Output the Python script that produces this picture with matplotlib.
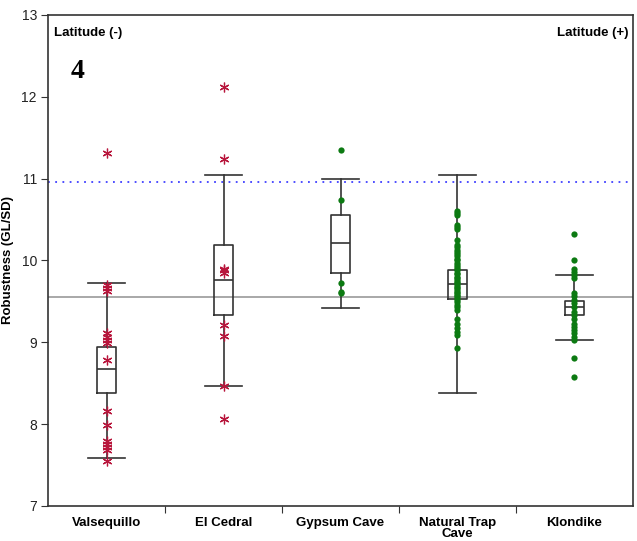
import matplotlib

matplotlib.use("Agg")
import matplotlib.pyplot as plt

# --- data ---
sites = ["Valsequillo", "El Cedral", "Gypsum Cave", "Natural Trap\nCave", "Klondike"]
southern = [True, True, False, False, False]

# box statistics
whisk_lo = [7.59, 8.47, 9.42, 8.38, 9.03]
q1 = [8.38, 9.33, 9.85, 9.53, 9.34]
med = [8.67, 9.76, 10.21, 9.71, 9.43]
q3 = [8.94, 10.19, 10.56, 9.88, 9.51]
whisk_hi = [9.72, 11.04, 11.00, 11.04, 9.82]

valsequillo = [11.31, 9.70, 9.66, 9.63, 9.11, 9.07, 9.03, 8.99, 8.79,
               8.16, 7.99, 7.80, 7.76, 7.72, 7.68, 7.55]
el_cedral = [12.12, 11.24, 9.90, 9.88, 9.85, 9.21, 9.08, 8.47, 8.06]
gypsum = [11.35, 10.74, 9.72, 9.62, 9.60]
natural_trap = [10.60, 10.58, 10.55, 10.43, 10.41, 10.39, 10.25,
                10.19, 10.16, 10.13, 10.10, 10.08, 10.05, 10.02, 10.00,
                9.97, 9.95, 9.92, 9.90, 9.88, 9.85, 9.83, 9.80, 9.78,
                9.76, 9.74, 9.72, 9.70, 9.68, 9.66, 9.64, 9.62, 9.60,
                9.58, 9.56, 9.54, 9.52, 9.49, 9.46, 9.43, 9.40,
                9.29, 9.23, 9.17, 9.13, 9.09, 8.93]
klondike = [10.32, 10.01, 9.90, 9.86, 9.82, 9.78, 9.60, 9.56, 9.52,
            9.48, 9.43, 9.37, 9.33, 9.29, 9.23, 9.19, 9.15, 9.11,
            9.07, 9.03, 8.81, 8.58]
points = [valsequillo, el_cedral, gypsum, natural_trap, klondike]

upper_ref = 10.96
mean_ref = 9.55

red = "#b8163c"
green = "#0c7a12"
edge = "#333333"

plt.rcParams.update({"font.family": "Liberation Sans", "font.size": 10})

fig = plt.figure(figsize=(6.37, 5.41), dpi=100)
ax = fig.add_axes([0.0754, 0.0647, 0.9183, 0.9076])

ax.axhline(mean_ref, color="#999999", linewidth=1.2, zorder=1)
ax.axhline(upper_ref, color="#4040ff", linewidth=1.3, linestyle=(0, (1, 3)), zorder=1)

stats = []
for i in range(len(sites)):
    stats.append({"whislo": whisk_lo[i], "q1": q1[i], "med": med[i],
                  "q3": q3[i], "whishi": whisk_hi[i], "fliers": []})

line = {"color": edge, "linewidth": 1.2}
ax.bxp(stats, positions=range(1, 6), widths=0.16, showfliers=False,
       boxprops=line, whiskerprops=line, capprops=line, medianprops=line,
       capwidths=0.31, zorder=2)

for i, vals in enumerate(points):
    xs = [i + 1] * len(vals)
    if southern[i]:
        ax.plot(xs, vals, linestyle="none", marker=(6, 2, 0), markersize=7,
                markeredgecolor=red, markeredgewidth=0.9, zorder=3)
    else:
        ax.plot(xs, vals, linestyle="none", marker="o", markersize=4.5,
                color=green, markeredgewidth=0, zorder=3)

ax.set_xlim(0.5, 5.5)
ax.set_ylim(7, 13)
ax.set_yticks(range(7, 14))
ax.set_xticks([1.5, 2.5, 3.5, 4.5])
ax.set_xticklabels([])
ax.set_xticks(range(1, 6), minor=True)
ax.set_xticklabels(sites, minor=True, fontweight="bold", fontsize=9.5,
                   va="top", linespacing=0.9)
ax.tick_params(axis="x", which="minor", length=0, pad=8)
ax.tick_params(axis="x", which="major", direction="out", length=5, color=edge)
ax.tick_params(axis="y", direction="out", length=5, color=edge, labelsize=10,
               labelcolor="#222222", pad=3)
for s in ax.spines.values():
    s.set_color(edge)
    s.set_linewidth(1.2)

ax.set_ylabel("Robustness (GL/SD)", fontweight="bold", fontsize=9.5)
ax.yaxis.set_label_coords(-0.058, 0.5)

ax.text(0.01, 0.964, "Latitude (-)", transform=ax.transAxes, ha="left",
        va="center", fontweight="bold", fontsize=9.5)
ax.text(0.993, 0.964, "Latitude (+)", transform=ax.transAxes, ha="right",
        va="center", fontweight="bold", fontsize=9.5)
ax.text(0.05, 0.884, "4", transform=ax.transAxes, ha="center", va="center",
        fontweight="bold", fontsize=20, family="Liberation Serif")

fig.savefig("out.png", dpi=100)
